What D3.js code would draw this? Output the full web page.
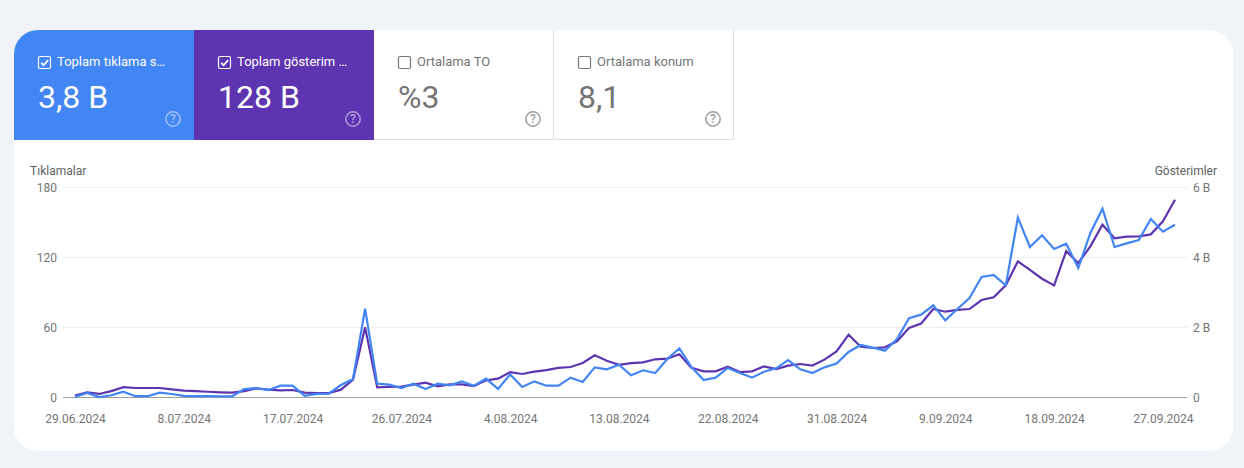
<!DOCTYPE html>
<html>
<head>
<meta charset="utf-8">
<script src="https://cdn.jsdelivr.net/npm/d3@7"></script>
<style>
html, body { margin: 0; padding: 0; background: #f0f4f9; overflow: hidden; }
svg { display: block; font-family: Roboto, sans-serif; }
.axis path, .axis line { fill: none; }
.axis text { fill: #757575; font-size: 12px; font-family: Roboto, sans-serif; }
</style>
</head>
<body>
<svg id="chart" width="1244" height="468"></svg>
<script>
// scorecards
var tabTitles = ["Toplam tıklama s…", "Toplam gösterim …", "Ortalama TO", "Ortalama konum"];
var tabValues = ["3,8 B", "128 B", "%3", "8,1"];
var tabChecked = [true, true, false, false];

// axis labels
var leftTicks = [0, 60, 120, 180];
var rightTicks = [0, 2, 4, 6];
var rightTickLabels = ["0", "2 B", "4 B", "6 B"];
var dateLabels = ["29.06.2024", "8.07.2024", "17.07.2024", "26.07.2024", "4.08.2024", "13.08.2024",
  "22.08.2024", "31.08.2024", "9.09.2024", "18.09.2024", "27.09.2024"];
var firstDay = "29.06.2024";

// daily clicks
var clicks = [0, 3.5, 0, 1.5, 4.5, 0.7, 0.7, 3.7, 2.6, 1, 0.7, 0.7, 0.6, 0.6,
  6.8, 7.7, 6, 9.7, 9.7, 1, 2.6, 2.9, 10.3, 15.4, 75.7, 11.4, 10.6, 7.7, 11.4, 6.9,
  11.4, 10, 13.4, 9.7, 15.7, 6.9, 19.4, 8.6, 13.4, 9.7, 9.7, 16.6, 12.9, 25.4, 23.7,
  27.7, 18.6, 22.9, 20.6, 32.6, 41.7, 25.7, 14.6, 16.6, 24.9, 20.6, 16.6, 21.7, 24.6,
  31.7, 23.7, 20.6, 25.4, 28.6, 38.6, 44.6, 42.3, 39.7, 49.7, 67.5, 70.6, 78.6, 65.7,
  75.4, 84.9, 102.9, 104.6, 95.7, 153.7, 128.6, 138.6, 126.9, 131.4, 110.6, 140.6,
  161.4, 128.6, 131.7, 134.6, 152.6, 141.7, 147.7];

// daily impressions, in billions
var impressions = [0.04, 0.133, 0.087, 0.167, 0.283, 0.257, 0.257, 0.257, 0.217, 0.183, 0.167, 0.15,
  0.133, 0.123, 0.167, 0.247, 0.21, 0.19, 0.2, 0.123, 0.113, 0.113, 0.21, 0.497, 1.99, 0.277,
  0.287, 0.297, 0.353, 0.41, 0.303, 0.363, 0.363, 0.313, 0.477, 0.523, 0.713, 0.657, 0.723, 0.77,
  0.83, 0.857, 0.97, 1.19, 1.037, 0.92, 0.97, 0.99, 1.077, 1.097, 1.22, 0.837, 0.733, 0.733, 0.867,
  0.713, 0.733, 0.877, 0.8, 0.897, 0.943, 0.897, 1.067, 1.303, 1.78, 1.437, 1.4, 1.42, 1.59, 1.97,
  2.1, 2.513, 2.437, 2.487, 2.513, 2.77, 2.847, 3.19, 3.877, 3.63, 3.38, 3.19, 4.17, 3.83, 4.303,
  4.923, 4.533, 4.58, 4.59, 4.647, 5.02, 5.637];

var parseDay = d3.utcParse("%d.%m.%Y");
var days = clicks.map(function(d, i) { return d3.utcDay.offset(parseDay(firstDay), i); });

var svg = d3.select("#chart");
var tabW = 180, tabH = 110;
var cardX = 14, cardY = 30, cardW = 1219, cardH = 421, cardR = 24;

// white card, tabs get clipped to its rounded corners
svg.append("clipPath").attr("id", "cardClip")
  .append("rect").attr("x", cardX).attr("y", cardY).attr("width", cardW).attr("height", cardH).attr("rx", cardR);
svg.append("rect").attr("x", cardX).attr("y", cardY).attr("width", cardW).attr("height", cardH)
  .attr("rx", cardR).attr("fill", "#fff");

//================= scorecards
var tabFill = ["#4285f4", "#5e35b1", "#fff", "#fff"];
var tabs = svg.append("g").attr("clip-path", "url(#cardClip)")
  .selectAll("g").data(tabTitles).enter().append("g")
  .attr("transform", function(d, i) { return "translate(" + (cardX + i * tabW) + "," + cardY + ")"; });

tabs.append("rect").attr("width", tabW).attr("height", tabH)
  .attr("fill", function(d, i) { return tabFill[i]; });

// borders on the white tabs
tabs.filter(function(d, i) { return !tabChecked[i]; }).append("path")
  .attr("d", "M" + (tabW - 0.5) + ",0V" + (tabH - 0.5) + "H0")
  .attr("fill", "none").attr("stroke", "#e0e0e0");

tabs.append("rect")
  .attr("x", 24.5).attr("y", 26.5).attr("width", 12).attr("height", 12).attr("rx", 1.5)
  .attr("fill", "none")
  .attr("stroke", function(d, i) { return tabChecked[i] ? "#fff" : "#757575"; })
  .attr("stroke-width", 1.2);

tabs.filter(function(d, i) { return tabChecked[i]; }).append("path")
  .attr("d", "M27.2,32.8l2.4,2.4l4.6,-5")
  .attr("fill", "none").attr("stroke", "#fff").attr("stroke-width", 1.7);

tabs.append("text").attr("x", 43).attr("y", 36)
  .attr("font-size", 13)
  .attr("fill", function(d, i) { return tabChecked[i] ? "#fff" : "#757575"; })
  .text(function(d) { return d; });

tabs.append("text").attr("x", 24).attr("y", 78)
  .attr("font-size", 32)
  .attr("fill", function(d, i) { return tabChecked[i] ? "#fff" : "#757575"; })
  .text(function(d, i) { return tabValues[i]; });

// help icons
var helpColor = function(d, i) { return tabChecked[i] ? "rgba(255,255,255,0.5)" : "#9e9e9e"; };
tabs.append("circle").attr("cx", 159).attr("cy", 89).attr("r", 7.2)
  .attr("fill", "none").attr("stroke", helpColor).attr("stroke-width", 1.5);
tabs.append("text").attr("x", 159).attr("y", 93.3).attr("text-anchor", "middle")
  .attr("font-size", 12).attr("font-weight", 500).attr("fill", helpColor).text("?");

//================= scales
// d3 axes put their ticks half a pixel below the scale value
var x = d3.scaleUtc().domain(d3.extent(days)).range([75, 1175]);
var yLeft = d3.scaleLinear().domain([0, 180]).range([397, 187]);
var yRight = d3.scaleLinear().domain([0, 6]).range([397, 187]);

//================= axes
var left = svg.append("g").attr("class", "axis").attr("transform", "translate(63,0)")
  .call(d3.axisLeft(yLeft).tickValues(leftTicks).tickSize(-1124).tickPadding(6).tickFormat(d3.format("d")));
left.select(".domain").remove();
left.selectAll("line")
  .attr("stroke", function(d) { return d === 0 ? "#9e9e9e" : "#eeeeee"; });
left.selectAll("text").attr("transform", "translate(0,1)");

var right = svg.append("g").attr("class", "axis").attr("transform", "translate(1187,0)")
  .call(d3.axisRight(yRight).tickValues(rightTicks).tickSize(0).tickPadding(6)
    .tickFormat(function(d, i) { return rightTickLabels[i]; }));
right.select(".domain").remove();
right.selectAll("text").attr("transform", "translate(0,1)");

var bottom = svg.append("g").attr("class", "axis").attr("transform", "translate(0,411.5)")
  .call(d3.axisBottom(x).tickValues(dateLabels.map(parseDay)).tickSize(0).tickPadding(3)
    .tickFormat(function(d, i) { return dateLabels[i]; }));
bottom.select(".domain").remove();

svg.append("text").attr("x", 30).attr("y", 175).attr("font-size", 12).attr("fill", "#616161").text("Tıklamalar");
svg.append("text").attr("x", 1217).attr("y", 175).attr("font-size", 12).attr("fill", "#616161")
  .attr("text-anchor", "end").text("Gösterimler");

//================= lines
var lineClicks = d3.line()
  .x(function(d, i) { return x(days[i]); })
  .y(function(d) { return yLeft(d); });
var lineImpressions = d3.line()
  .x(function(d, i) { return x(days[i]); })
  .y(function(d) { return yRight(d); });

svg.append("path").attr("d", lineImpressions(impressions))
  .attr("fill", "none").attr("stroke", "#5e35b1").attr("stroke-width", 2.2);
svg.append("path").attr("d", lineClicks(clicks))
  .attr("fill", "none").attr("stroke", "#4285f4").attr("stroke-width", 2.2);
</script>
</body>
</html>
